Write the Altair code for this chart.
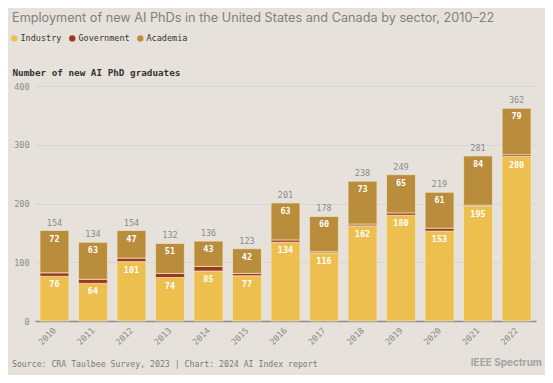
import altair as alt
import pandas as pd

years = [str(y) for y in range(2010, 2023)]
industry = [76, 64, 101, 74, 85, 77, 134, 116, 162, 180, 153, 195, 280]
government = [6, 7, 6, 7, 8, 4, 4, 2, 3, 4, 5, 2, 3]
academia = [72, 63, 47, 51, 43, 42, 63, 60, 73, 65, 61, 84, 79]
total = [154, 134, 154, 132, 136, 123, 201, 178, 238, 249, 219, 281, 362]

sectors = ["Industry", "Government", "Academia"]
colors = ["#EDBF4E", "#9B3A1B", "#B98D3B"]

rows = []
for i, y in enumerate(years):
    for k, (s, vals) in enumerate(zip(sectors, [industry, government, academia])):
        rows.append({"year": y, "sector": s, "value": vals[i], "ord": k})
long_df = pd.DataFrame(rows)

wide_df = pd.DataFrame({"year": years, "industry": industry,
                        "academia": academia, "total": total})

MONO = "DejaVu Sans Mono"
BG = "#E6E2DB"

xaxis = alt.Axis(labels=False, ticks=False, domainColor="#8a8a8a", domainWidth=1.5)
xscale = alt.Scale(paddingInner=0.25, paddingOuter=0.13)


def xenc():
    return alt.X("year:O", title=None, scale=xscale, axis=xaxis)


bars = alt.Chart(long_df).mark_bar(stroke="#F2E6C4", strokeWidth=1, strokeOpacity=0.7).encode(
    x=xenc(),
    y=alt.Y("sum(value):Q", stack="zero",
            scale=alt.Scale(domain=[0, 400]),
            axis=alt.Axis(values=[0, 100, 200, 300, 400], title="Number of new AI PhD graduates",
                          titleAngle=0, titleAlign="left", titleBaseline="alphabetic",
                          titleX=-23, titleY=-11, titleFont=MONO, titleFontSize=9.3,
                          titleFontWeight="bold", titleColor="#333333",
                          labelFont=MONO, labelFontSize=8.5, labelColor="#8a8a8a",
                          domain=False, ticks=False, gridColor="#D6D6DA", labelPadding=6)),
    color=alt.Color("sector:N", scale=alt.Scale(domain=sectors, range=colors),
                    legend=alt.Legend(title=None, orient="none", direction="horizontal",
                                      legendX=-25, legendY=-52, symbolType="circle",
                                      symbolSize=40, symbolStrokeWidth=0,
                                      labelFont=MONO, labelFontSize=8.5, labelColor="#333333",
                                      columnPadding=6, symbolOffset=0, labelOffset=2)),
    order=alt.Order("ord:Q", sort="ascending"),
)

ind_lbl = alt.Chart(wide_df).mark_text(font=MONO, fontSize=8.5, fontWeight="bold",
                                       color="white", dy=8).encode(
    x=xenc(), y=alt.Y("industry:Q"), text="industry:Q")
aca_lbl = alt.Chart(wide_df).mark_text(font=MONO, fontSize=8.5, fontWeight="bold",
                                       color="white", dy=8).encode(
    x=xenc(), y=alt.Y("total:Q"), text="academia:Q")
tot_lbl = alt.Chart(wide_df).mark_text(font=MONO, fontSize=8.5,
                                       color="#8a8a8a", dy=-8).encode(
    x=xenc(), y=alt.Y("total:Q"), text="total:Q")
year_lbl = alt.Chart(wide_df).mark_text(font=MONO, fontSize=8.5, color="#8a8a8a",
                                        angle=315, align="right", baseline="middle").encode(
    x=xenc(), y=alt.value(243), text="year:N")

title_txt = alt.Chart(pd.DataFrame({"t": ["Employment of new AI PhDs in the United States and Canada by sector, 2010\u201322"]})).mark_text(
    font="Inter", fontSize=12.7, color="#808080", align="left", baseline="alphabetic").encode(
    x=alt.value(-23), y=alt.value(-64), text="t:N")
src_txt = alt.Chart(pd.DataFrame({"t": ["Source: CRA Taulbee Survey, 2023 | Chart: 2024 AI Index report"]})).mark_text(
    font=MONO, fontSize=8.2, color="#7a7a7a", align="left", baseline="alphabetic").encode(
    x=alt.value(-23), y=alt.value(281), text="t:N")
ieee_txt = alt.Chart(pd.DataFrame({"t": ["IEEE Spectrum"]})).mark_text(
    font="Inter", fontSize=10, fontWeight="bold", color="#a3a3a3", align="right",
    baseline="alphabetic").encode(
    x=alt.value(507), y=alt.value(280), text="t:N")

chart = alt.layer(bars, ind_lbl, aca_lbl, tot_lbl, year_lbl, title_txt, src_txt, ieee_txt).properties(
    width=501, height=235,
    padding={"left": 27, "top": 78, "right": 9, "bottom": 54},
    autosize=alt.AutoSizeParams(type="none"),
    background=BG,
).configure_view(stroke=None)

chart.save("out.html", embed_options={"renderer": "svg", "actions": False})
